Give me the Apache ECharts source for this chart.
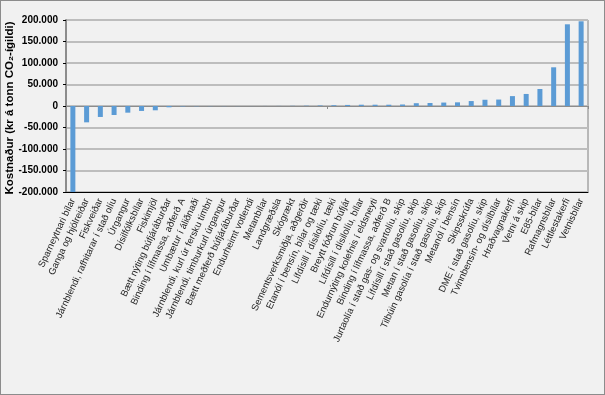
<!DOCTYPE html>
<html>
<head>
<meta charset="utf-8">
<script src="https://cdn.jsdelivr.net/npm/echarts@6/dist/echarts.min.js"></script>
<style>
html,body{margin:0;padding:0;background:#fff;}
#c{position:absolute;left:0;top:0;width:603px;height:393px;border:1px solid #8c8c8c;background:#f1f1f1;}
</style>
</head>
<body>
<div id="c"></div>
<script>
const categories = [
  "Sparneytnari bílar","Ganga og hjólreiðar","Fiskveiðar","Járnblendi, rafhitarar í stað olíu","Úrgangur",
  "Dísilfólksbílar","Fiskimjöl","Bætt nýting búfjáráburðar","Binding í lífmassa, aðferð A","Umbætur í áliðnaði",
  "Járnblendi, kurl úr fersku timbri","Járnblendi, timburkurl úrgangur","Bætt meðferð búfjáráburðar","Endurheimt votlendi","Metanbílar",
  "Landgræðsla","Skógrækt","Sementsverksmiðja, aðgerðir","Etanól í bensín, bílar og tæki","Lífdísill í dísilolíu, tæki",
  "Breytt fóðrun búfjár","Lífdísill í dísilolíu, bílar","Endurnýting kolefnis í eldsneyti","Binding í lífmassa, aðferð B","Jurtaolía í stað gas- og svartolíu, skip",
  "Lífdísill í stað gasolíu, skip","Metan í stað gasolíu, skip","Tilbúin gasolía í stað gasolíu, skip","Metanól í bensín","Skipsskrúfa",
  "DME í stað gasolíu, skip","Tvinnbensín- og dísilbílar","Hraðvagnakerfi","Vetni á skip","E85-bílar",
  "Rafmagnsbílar","Léttlestakerfi","Vetnisbílar"
];
const costValues = [
  -200000,-38000,-25500,-21000,-15500,
  -11500,-10000,-3000,-1000,-600,
  -400,-300,-200,-100,100,
  200,400,700,1200,1800,
  2500,3000,3000,3000,3500,
  6500,7000,8000,8500,11500,
  14500,15000,23000,28000,39500,
  90000,190000,197000
];
const yTicks = { min: -200000, max: 200000, interval: 50000 };
const yAxisTitle = "Kostnaður (kr á tonn CO₂-ígildi)";

function fmt(v){
  if (v === 0) return "0";
  const s = Math.abs(v).toString().replace(/\B(?=(\d{3})+(?!\d))/g, ".");
  return (v < 0 ? "-" : "") + s;
}

const chart = echarts.init(document.getElementById('c'), null, {renderer:'canvas'});
chart.setOption({
  animation: false,
  backgroundColor: 'transparent',
  textStyle: { fontFamily: 'Liberation Sans, Arial, sans-serif' },
  grid: { left: 65, right: 16, top: 19, bottom: 202, containLabel: false, outerBoundsMode: 'none',
          show: true, borderColor: '#7f7f7f', borderWidth: 1, backgroundColor: 'transparent' },
  graphic: [{
    type: 'text', x: 9, y: 107, rotation: Math.PI / 2,
    style: { text: yAxisTitle, fontSize: 11.5, fontWeight: 'bold', fill: '#000',
             fontFamily: 'Liberation Sans, Arial, sans-serif', align: 'center', verticalAlign: 'middle' }
  }],
  xAxis: [
    {
      type: 'category', data: categories, position: 'bottom',
      axisLine: { onZero: true, lineStyle: { color: '#8c8c8c', width: 1 } },
      axisTick: { show: true, length: 3, lineStyle: { color: '#8c8c8c' } },
      axisLabel: { show: false }
    },
    {
      type: 'category', data: categories, position: 'bottom',
      axisLine: { onZero: false, lineStyle: { color: '#000', width: 1 } },
      axisTick: { show: false },
      axisLabel: { show: true, rotate: 65, fontSize: 9.5, color: '#222', margin: 7, interval: 0 }
    }
  ],
  yAxis: {
    type: 'value', min: yTicks.min, max: yTicks.max, interval: yTicks.interval,
    axisLine: { show: true, lineStyle: { color: '#8c8c8c', width: 2 } },
    axisTick: { show: true, length: 3, lineStyle: { color: '#000' } },
    axisLabel: { fontSize: 10, fontWeight: 'bold', color: '#000', margin: 8, formatter: fmt },
    splitLine: { show: true, lineStyle: { color: '#bdbdbd', width: 2 } }
  },
  series: [{
    type: 'bar', data: costValues, xAxisIndex: 0, barWidth: 5,
    itemStyle: { color: '#5b9bd5' }
  }]
});
</script>
</body>
</html>
